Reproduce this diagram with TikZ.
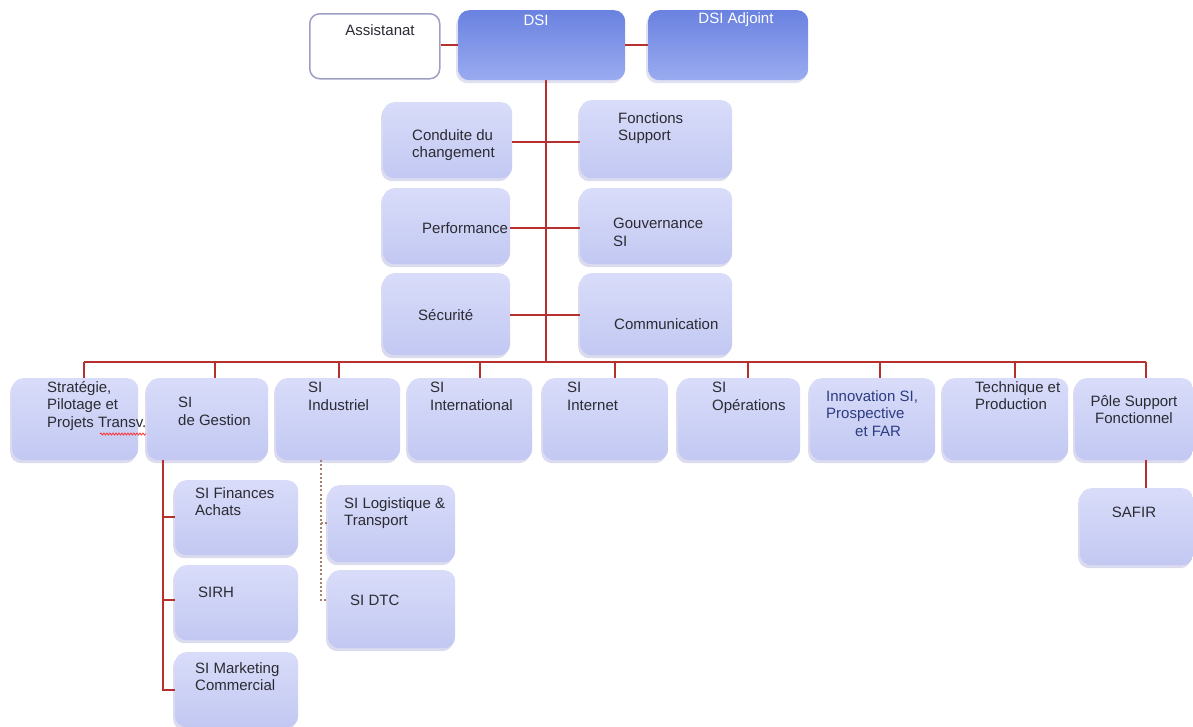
\documentclass[tikz,border=0pt]{standalone}
\usepackage{fontspec}
\setmainfont{Liberation Sans}
\usetikzlibrary{shadows,decorations.pathmorphing}
\definecolor{boxtop}{HTML}{D9DCF9}
\definecolor{boxbot}{HTML}{C2C8F2}
\definecolor{dsitop}{HTML}{6A82E0}
\definecolor{dsibot}{HTML}{9AABF0}
\definecolor{lnk}{HTML}{B5302F}
\definecolor{dot}{HTML}{A88070}
\definecolor{txtc}{HTML}{2B2B33}
\definecolor{bluetxt}{HTML}{2C3C80}
\tikzset{
  box/.style={rounded corners=11pt, top color=boxtop, bottom color=boxbot, draw=none,
    drop shadow={shadow xshift=-2pt, shadow yshift=-3pt, opacity=.35, fill=black!45!blue!40}},
  dsibox/.style={rounded corners=11pt, top color=dsitop, bottom color=dsibot, draw=none,
    drop shadow={shadow xshift=-2pt, shadow yshift=-3pt, opacity=.3, fill=black!45!blue!40}},
  whitebox/.style={rounded corners=10pt, fill=white, draw=blue!25!gray!60, line width=1.5pt},
  txt/.style={inner sep=0pt, text=txtc, align=left, font=\fontsize{15}{17.5}\selectfont},
  link/.style={draw=lnk, line width=2.4pt},
  dlink/.style={draw=dot, line width=2pt, dash pattern=on 2pt off 2.2pt},
}
\begin{document}
\begin{tikzpicture}[x=1pt,y=-1pt]
\useasboundingbox (0,0) rectangle (1193,726);
% top row
\node[whitebox, anchor=north west, minimum width=130pt, minimum height=65pt] (assist) at (309,13) {};
\node[dsibox, anchor=north west, minimum width=167pt, minimum height=70pt] (dsi) at (458,10) {};
\node[dsibox, anchor=north west, minimum width=160pt, minimum height=70pt] (adj) at (648,10) {};
% middle
\node[box, anchor=north west, minimum width=129pt, minimum height=76pt] (cond) at (383,102) {};
\node[box, anchor=north west, minimum width=152pt, minimum height=78pt] (fonc) at (580,100) {};
\node[box, anchor=north west, minimum width=127pt, minimum height=76pt] (perf) at (383,188) {};
\node[box, anchor=north west, minimum width=152pt, minimum height=76pt] (gouv) at (580,188) {};
\node[box, anchor=north west, minimum width=127pt, minimum height=82pt] (secu) at (383,273) {};
\node[box, anchor=north west, minimum width=152pt, minimum height=82pt] (comm) at (580,273) {};
% bottom row
\node[box, anchor=north west, minimum width=126pt, minimum height=82pt] (strat) at (12,378) {};
\node[box, anchor=north west, minimum width=121pt, minimum height=82pt] (gest) at (147,378) {};
\node[box, anchor=north west, minimum width=124pt, minimum height=82pt] (indu) at (276,378) {};
\node[box, anchor=north west, minimum width=124pt, minimum height=82pt] (inter) at (408,378) {};
\node[box, anchor=north west, minimum width=125pt, minimum height=82pt] (inet) at (543,378) {};
\node[box, anchor=north west, minimum width=122pt, minimum height=82pt] (oper) at (678,378) {};
\node[box, anchor=north west, minimum width=125pt, minimum height=82pt] (innov) at (810,378) {};
\node[box, anchor=north west, minimum width=125pt, minimum height=82pt] (tech) at (943,378) {};
\node[box, anchor=north west, minimum width=118pt, minimum height=82pt] (pole) at (1075,378) {};
% sub boxes
\node[box, anchor=north west, minimum width=123pt, minimum height=75pt] (fin) at (175,480) {};
\node[box, anchor=north west, minimum width=123pt, minimum height=75pt] (sirh) at (175,565) {};
\node[box, anchor=north west, minimum width=123pt, minimum height=75pt] (mkt) at (175,652) {};
\node[box, anchor=north west, minimum width=127pt, minimum height=77pt] (logi) at (328,485) {};
\node[box, anchor=north west, minimum width=127pt, minimum height=78pt] (dtc) at (328,570) {};
\node[box, anchor=north west, minimum width=113pt, minimum height=77pt] (safir) at (1080,488) {};

% connectors
\coordinate (busL) at (84,362);
\coordinate (busR) at (1146,362);
\draw[link] (assist.east |- 0,45) -- (dsi.west |- 0,45);
\draw[link] (dsi.east |- 0,45) -- (adj.west |- 0,45);
\draw[link] (dsi.south -| 546,0) -- (546,362);
\draw[link] (cond.east |- 0,142) -- (fonc.west |- 0,142);
\draw[link] (perf.east |- 0,228) -- (gouv.west |- 0,228);
\draw[link] (secu.east |- 0,315) -- (comm.west |- 0,315);
\draw[link, line width=2pt] (busL) -- (busR);
\foreach \n/\x in {strat/84, gest/215, indu/339, inter/480, inet/615, oper/748, innov/880, tech/1015, pole/1146}{
  \draw[link, line width=2pt] (\x,362) -- (\n.north -| \x,0);
}
\coordinate (gl) at (163,460);
\draw[link, line width=2pt] (gl) |- (mkt.west |- 0,690);
\draw[link, line width=2pt] (fin.west |- 0,517) -- (163,517);
\draw[link, line width=2pt] (sirh.west |- 0,600) -- (163,600);
\coordinate (il) at (321,460);
\draw[dlink] (il) -- (321,600) -- (dtc.west |- 0,600);
\draw[dlink] (321,523) -- (logi.west |- 0,523);
\draw[link, line width=2pt] (pole.south -| 1146,0) -- (safir.north -| 1146,0);

% texts
\node[txt, anchor=center] (tassist) at (380,30) {Assistanat};
\node[txt, anchor=center, text=white] (tdsi) at (536,20) {DSI};
\node[txt, anchor=center, text=white] (tadj) at (736,20) {DSI Adjoint};
\node[txt, anchor=north west] (tcond) at (412,129) {Conduite du\\changement};
\node[txt, anchor=north west] (tfonc) at (618,112) {Fonctions\\Support};
\node[txt, anchor=west] (tperf) at (422,228) {Performance};
\node[txt, anchor=north west] (tgouv) at (613,218) {Gouvernance\\SI};
\node[txt, anchor=west] (tsecu) at (418,315) {Sécurité};
\node[txt, anchor=west] (tcomm) at (614,324) {Communication};
\node[txt, anchor=north west] (tstrat) at (47,381) {Stratégie,\\Pilotage et\\Projets Transv.};
\draw[red!80, line width=0.8pt, decorate, decoration={snake, amplitude=1pt, segment length=3pt}] (100,434) -- (146,434);
\node[txt, anchor=north west] (tgest) at (178,397) {SI\\de Gestion};
\node[txt, anchor=north west] (tindu) at (308,382) {SI\\Industriel};
\node[txt, anchor=north west] (tinter) at (430,382) {SI\\International};
\node[txt, anchor=north west] (tinet) at (567,382) {SI\\Internet};
\node[txt, anchor=north west] (toper) at (712,382) {SI\\Opérations};
\node[txt, anchor=north west, text=bluetxt] (tinnov) at (826,390) {Innovation SI,\\Prospective\\\hspace*{29pt}et FAR};
\node[txt, anchor=north west] (ttech) at (975,381) {Technique et\\Production};
\node[txt, anchor=north, align=center] (tpole) at (1134,395) {Pôle Support\\Fonctionnel};
\node[txt, anchor=north west] (tfin) at (195,487) {SI Finances\\Achats};
\node[txt, anchor=west] (tsirh) at (198,592) {SIRH};
\node[txt, anchor=north west] (tmkt) at (195,662) {SI Marketing\\Commercial};
\node[txt, anchor=north west] (tlogi) at (344,497) {SI Logistique \&\\Transport};
\node[txt, anchor=west] (tdtc) at (350,600) {SI DTC};
\node[txt, anchor=center] (tsafir) at (1134,512) {SAFIR};
\end{tikzpicture}
\end{document}
